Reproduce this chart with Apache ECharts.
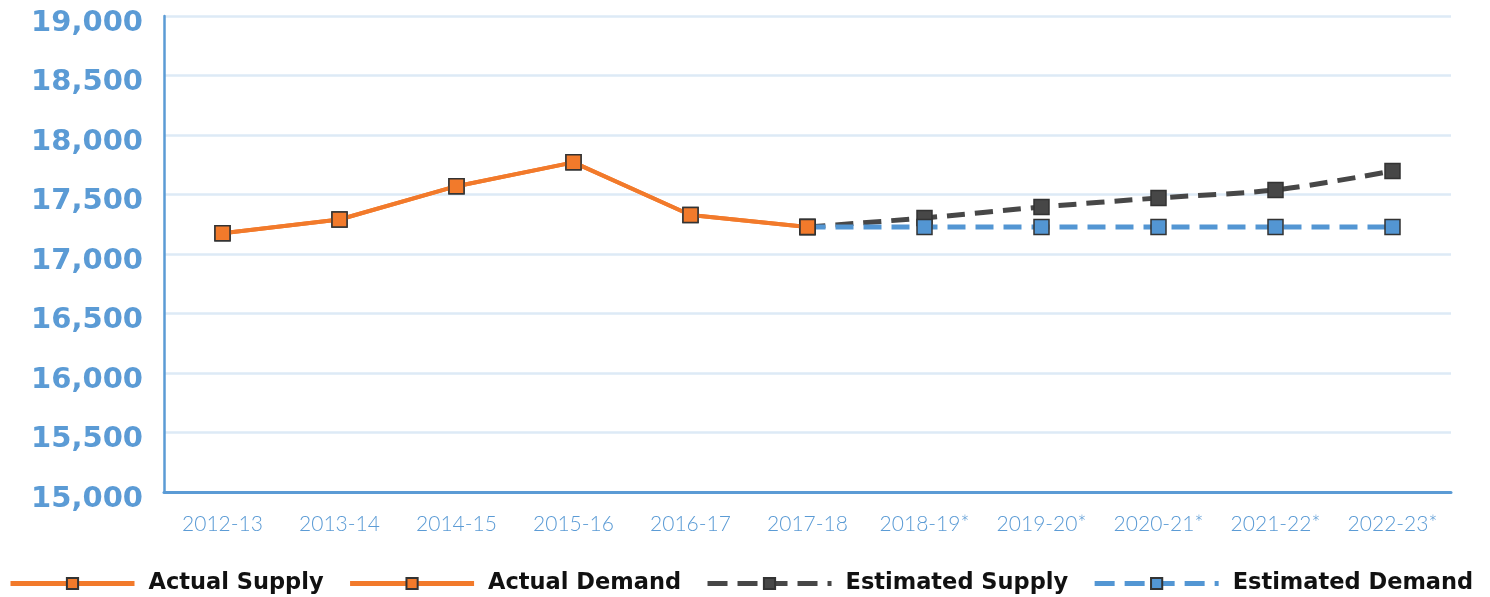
<!DOCTYPE html>
<html><head><meta charset="utf-8">
<script src="https://cdn.jsdelivr.net/npm/echarts@6/dist/echarts.min.js"></script>
<style>html,body{margin:0;padding:0;background:#fff}#c{width:1490px;height:597px}</style>
</head><body><div id="c"></div>
<script>
const categories = ['2012-13','2013-14','2014-15','2015-16','2016-17','2017-18','2018-19*','2019-20*','2020-21*','2021-22*','2022-23*'];
const actualSupply = [17175,17290,17570,17770,17328,17227,null,null,null,null,null];
const actualDemand = [17175,17290,17570,17770,17328,17227,null,null,null,null,null];
const estimatedSupply = [null,null,null,null,null,17227,17303,17395,17471,17538,17697];
const estimatedDemand = [null,null,null,null,null,17227,17227,17227,17227,17227,17227];
const yMin = 15000, yMax = 19000, yStep = 500;

const orange = '#F27A2B', dark = '#474747', blue = '#5396D3', axisBlue = '#5B9BD5';
const chart = echarts.init(document.getElementById('c'), null, {renderer:'canvas'});
function mk(name, data, color, dashed, z, smooth){
  return {
    name, type:'line', data, z, smooth: smooth||false,
    symbol:'rect', symbolSize:15, showSymbol:true, connectNulls:false,
    lineStyle:{color, width: dashed?5:4, type: dashed?[18,10]:'solid'},
    itemStyle:{color, borderColor:'#333', borderWidth:1.5},
    emphasis:{disabled:true}
  };
}
function legItem(name, dashed){
  return {name, lineStyle:{width:5, type: dashed?[20,10]:'solid'}};
}
chart.setOption({
  animation:false,
  grid:{left:164, right:39, top:16, bottom:105, containLabel:false},
  legend:{
    bottom:-3, left:3,
    itemWidth:124, itemHeight:14, itemGap:24,
    textStyle:{fontFamily:'DejaVu Sans', fontWeight:700, fontSize:22.5, color:'#111', padding:[0,0,0,9]},
    data:[legItem('Actual Supply',false),legItem('Actual Demand',false),legItem('Estimated Supply',true),legItem('Estimated Demand',true)]
  },
  xAxis:{
    type:'category', data:categories, boundaryGap:true,
    axisLine:{lineStyle:{color:axisBlue, width:3}},
    axisTick:{show:false},
    axisLabel:{color:axisBlue, fontFamily:'Lato', fontWeight:300, fontSize:21, margin:22, interval:0}
  },
  yAxis:{
    type:'value', min:yMin, max:yMax, interval:yStep,
    axisLine:{show:true, lineStyle:{color:axisBlue, width:2.5}},
    axisTick:{show:false},
    splitLine:{lineStyle:{color:'#DDEAF6', width:2.5}},
    axisLabel:{margin:21,
      formatter:v=>'{v|' + v.toLocaleString('en-US') + '}',
      rich:{v:{color:axisBlue, fontFamily:'DejaVu Sans', fontWeight:700, fontSize:29, padding:[14,0,0,0]}}
    }
  },
  series:[
    mk('Estimated Supply', estimatedSupply, dark, true, 2, 0.3),
    mk('Estimated Demand', estimatedDemand, blue, true, 3),
    mk('Actual Supply', actualSupply, orange, false, 5),
    mk('Actual Demand', actualDemand, orange, false, 6)
  ]
});
</script></body></html>
